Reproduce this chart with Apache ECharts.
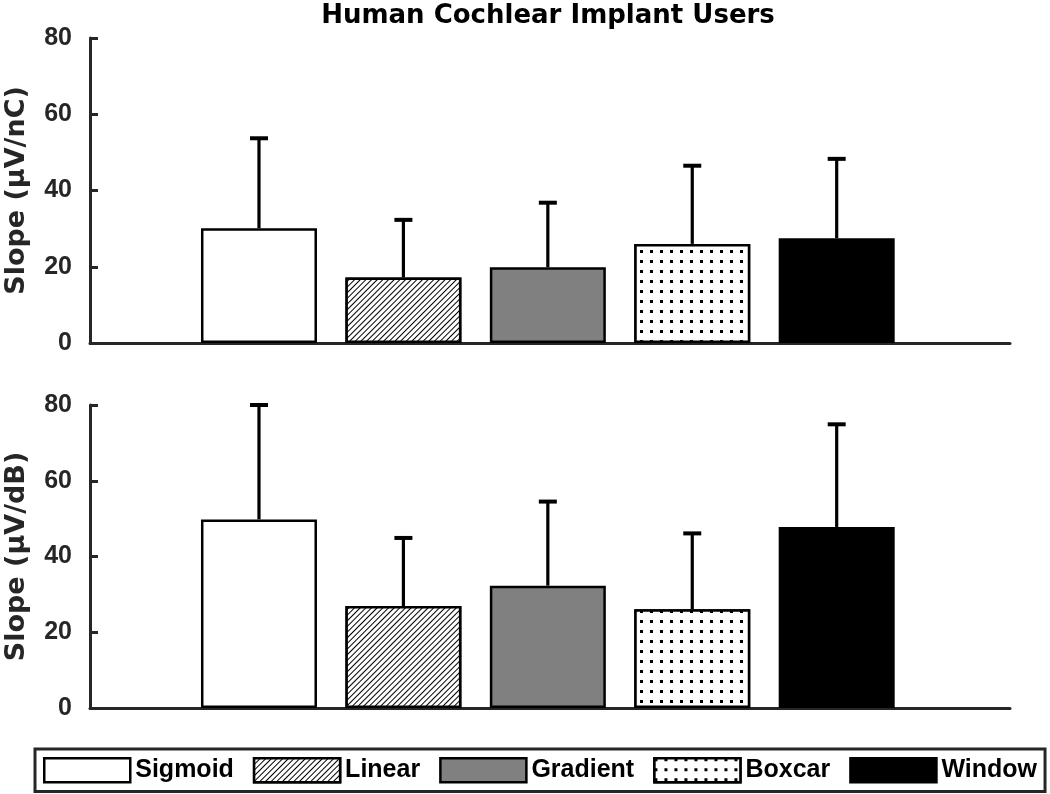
<!DOCTYPE html>
<html>
<head>
<meta charset="utf-8">
<script src="https://cdn.jsdelivr.net/npm/echarts@6/dist/echarts.min.js"></script>
<style>html,body{margin:0;padding:0;background:#fff}#c{width:1050px;height:794px}</style>
</head>
<body>
<div id="c"></div>
<script>
// ---- data ----
const categories = ['Sigmoid', 'Linear', 'Gradient', 'Boxcar', 'Window'];
const slopeNC = [30.1, 17.2, 19.9, 26.0, 27.5];
const errNC   = [23.6, 15.1, 16.9, 20.5, 20.8];
const slopeDB = [49.8, 26.9, 32.3, 26.1, 47.8];
const errDB   = [30.2, 18.0, 22.2, 20.0, 27.1];
const yTicks = [0, 20, 40, 60, 80];
const titleText = 'Human Cochlear Implant Users';
const yNames = ['Slope (\u03bcV/nC)', 'Slope (\u03bcV/dB)'];

// ---- styles ----
const AX = '#262626';
const fills = {
  Sigmoid: { color: '#ffffff' },
  Linear: { color: '#ffffff', decal: { symbol: 'rect', symbolSize: 1, color: '#000', backgroundColor: '#fff', dashArrayX: [1, 0], dashArrayY: [1, 3], rotation: -Math.PI / 4 } },
  Gradient: { color: '#808080' },
  Boxcar: { color: '#ffffff', decal: { symbol: 'rect', symbolSize: 1, color: '#000', backgroundColor: '#fff', dashArrayX: [3, 7], dashArrayY: [3, 7] } },
  Window: { color: '#000000' }
};

const grids = [
  { left: 90, right: 40, top: 38, height: 305, outerBoundsMode: 'none', containLabel: false },
  { left: 90, right: 40, top: 405, height: 303, outerBoundsMode: 'none', containLabel: false }
];

const xAxes = grids.map((g, i) => ({
  type: 'value', gridIndex: i, min: -0.17, max: 6.2,
  axisLine: { show: true, onZero: true, lineStyle: { color: AX, width: 3 } },
  axisTick: { show: false }, axisLabel: { show: false }, splitLine: { show: false }
}));

const yAxes = grids.map((g, i) => ({
  type: 'value', gridIndex: i, min: yTicks[0], max: yTicks[yTicks.length - 1], interval: yTicks[1] - yTicks[0],
  name: yNames[i], nameLocation: 'middle', nameGap: 60, nameRotate: 90, nameMoveOverlap: false,
  nameTextStyle: { fontFamily: 'DejaVu Sans', fontWeight: 'bold', fontSize: 27, color: AX },
  axisLine: { show: true, onZero: false, lineStyle: { color: AX, width: 3 } },
  axisTick: { show: true, inside: true, length: 8, lineStyle: { color: AX, width: 3 } },
  axisLabel: { margin: 18, fontFamily: 'Liberation Sans', fontWeight: 'bold', fontSize: 25, color: AX },
  splitLine: { show: false }
}));

const series = [];
[[slopeNC, errNC], [slopeDB, errDB]].forEach(([vals, errs], gi) => {
  categories.forEach((name, ci) => {
    series.push({
      type: 'bar', name: name, xAxisIndex: gi, yAxisIndex: gi,
      barWidth: 116, barGap: '-100%',
      itemStyle: Object.assign({ borderColor: '#000', borderWidth: 2.5 }, fills[name]),
      data: [[ci + 1, vals[ci]]], z: 2
    });
  });
  series.push({
    type: 'custom', name: 'err' + gi, xAxisIndex: gi, yAxisIndex: gi, z: 5,
    data: categories.map((c, ci) => [ci + 1, vals[ci], vals[ci] + errs[ci]]),
    renderItem: function (params, api) {
      const p0 = api.coord([api.value(0), api.value(1)]);
      const p1 = api.coord([api.value(0), api.value(2)]);
      return { type: 'group', children: [
        { type: 'line', shape: { x1: p0[0], y1: p0[1], x2: p1[0], y2: p1[1] }, style: { stroke: '#000', lineWidth: 3.2 } },
        { type: 'line', shape: { x1: p1[0] - 9, y1: p1[1], x2: p1[0] + 9, y2: p1[1] }, style: { stroke: '#000', lineWidth: 4 } }
      ] };
    }
  });
});

const chart = echarts.init(document.getElementById('c'), null, { renderer: 'canvas' });
chart.setOption({
  animation: false,
  backgroundColor: '#fff',
  title: { text: titleText, left: 548, textAlign: 'center', top: 3, padding: 0,
    textStyle: { fontFamily: 'DejaVu Sans', fontWeight: 'bold', fontSize: 26, color: '#000' } },
  legend: {
    data: categories, left: 35, top: 749, width: 1005, orient: 'horizontal',
    padding: [8, 8, 8, 8], itemGap: 19, itemWidth: 86, itemHeight: 24,
    borderColor: AX, borderWidth: 3, icon: 'rect',
    itemStyle: { borderColor: '#000', borderWidth: 2.5 },
    textStyle: { fontFamily: 'Liberation Sans', fontWeight: 'bold', fontSize: 25, color: '#000' },
    selectedMode: false
  },
  grid: grids, xAxis: xAxes, yAxis: yAxes, series: series
});
</script>
</body>
</html>
